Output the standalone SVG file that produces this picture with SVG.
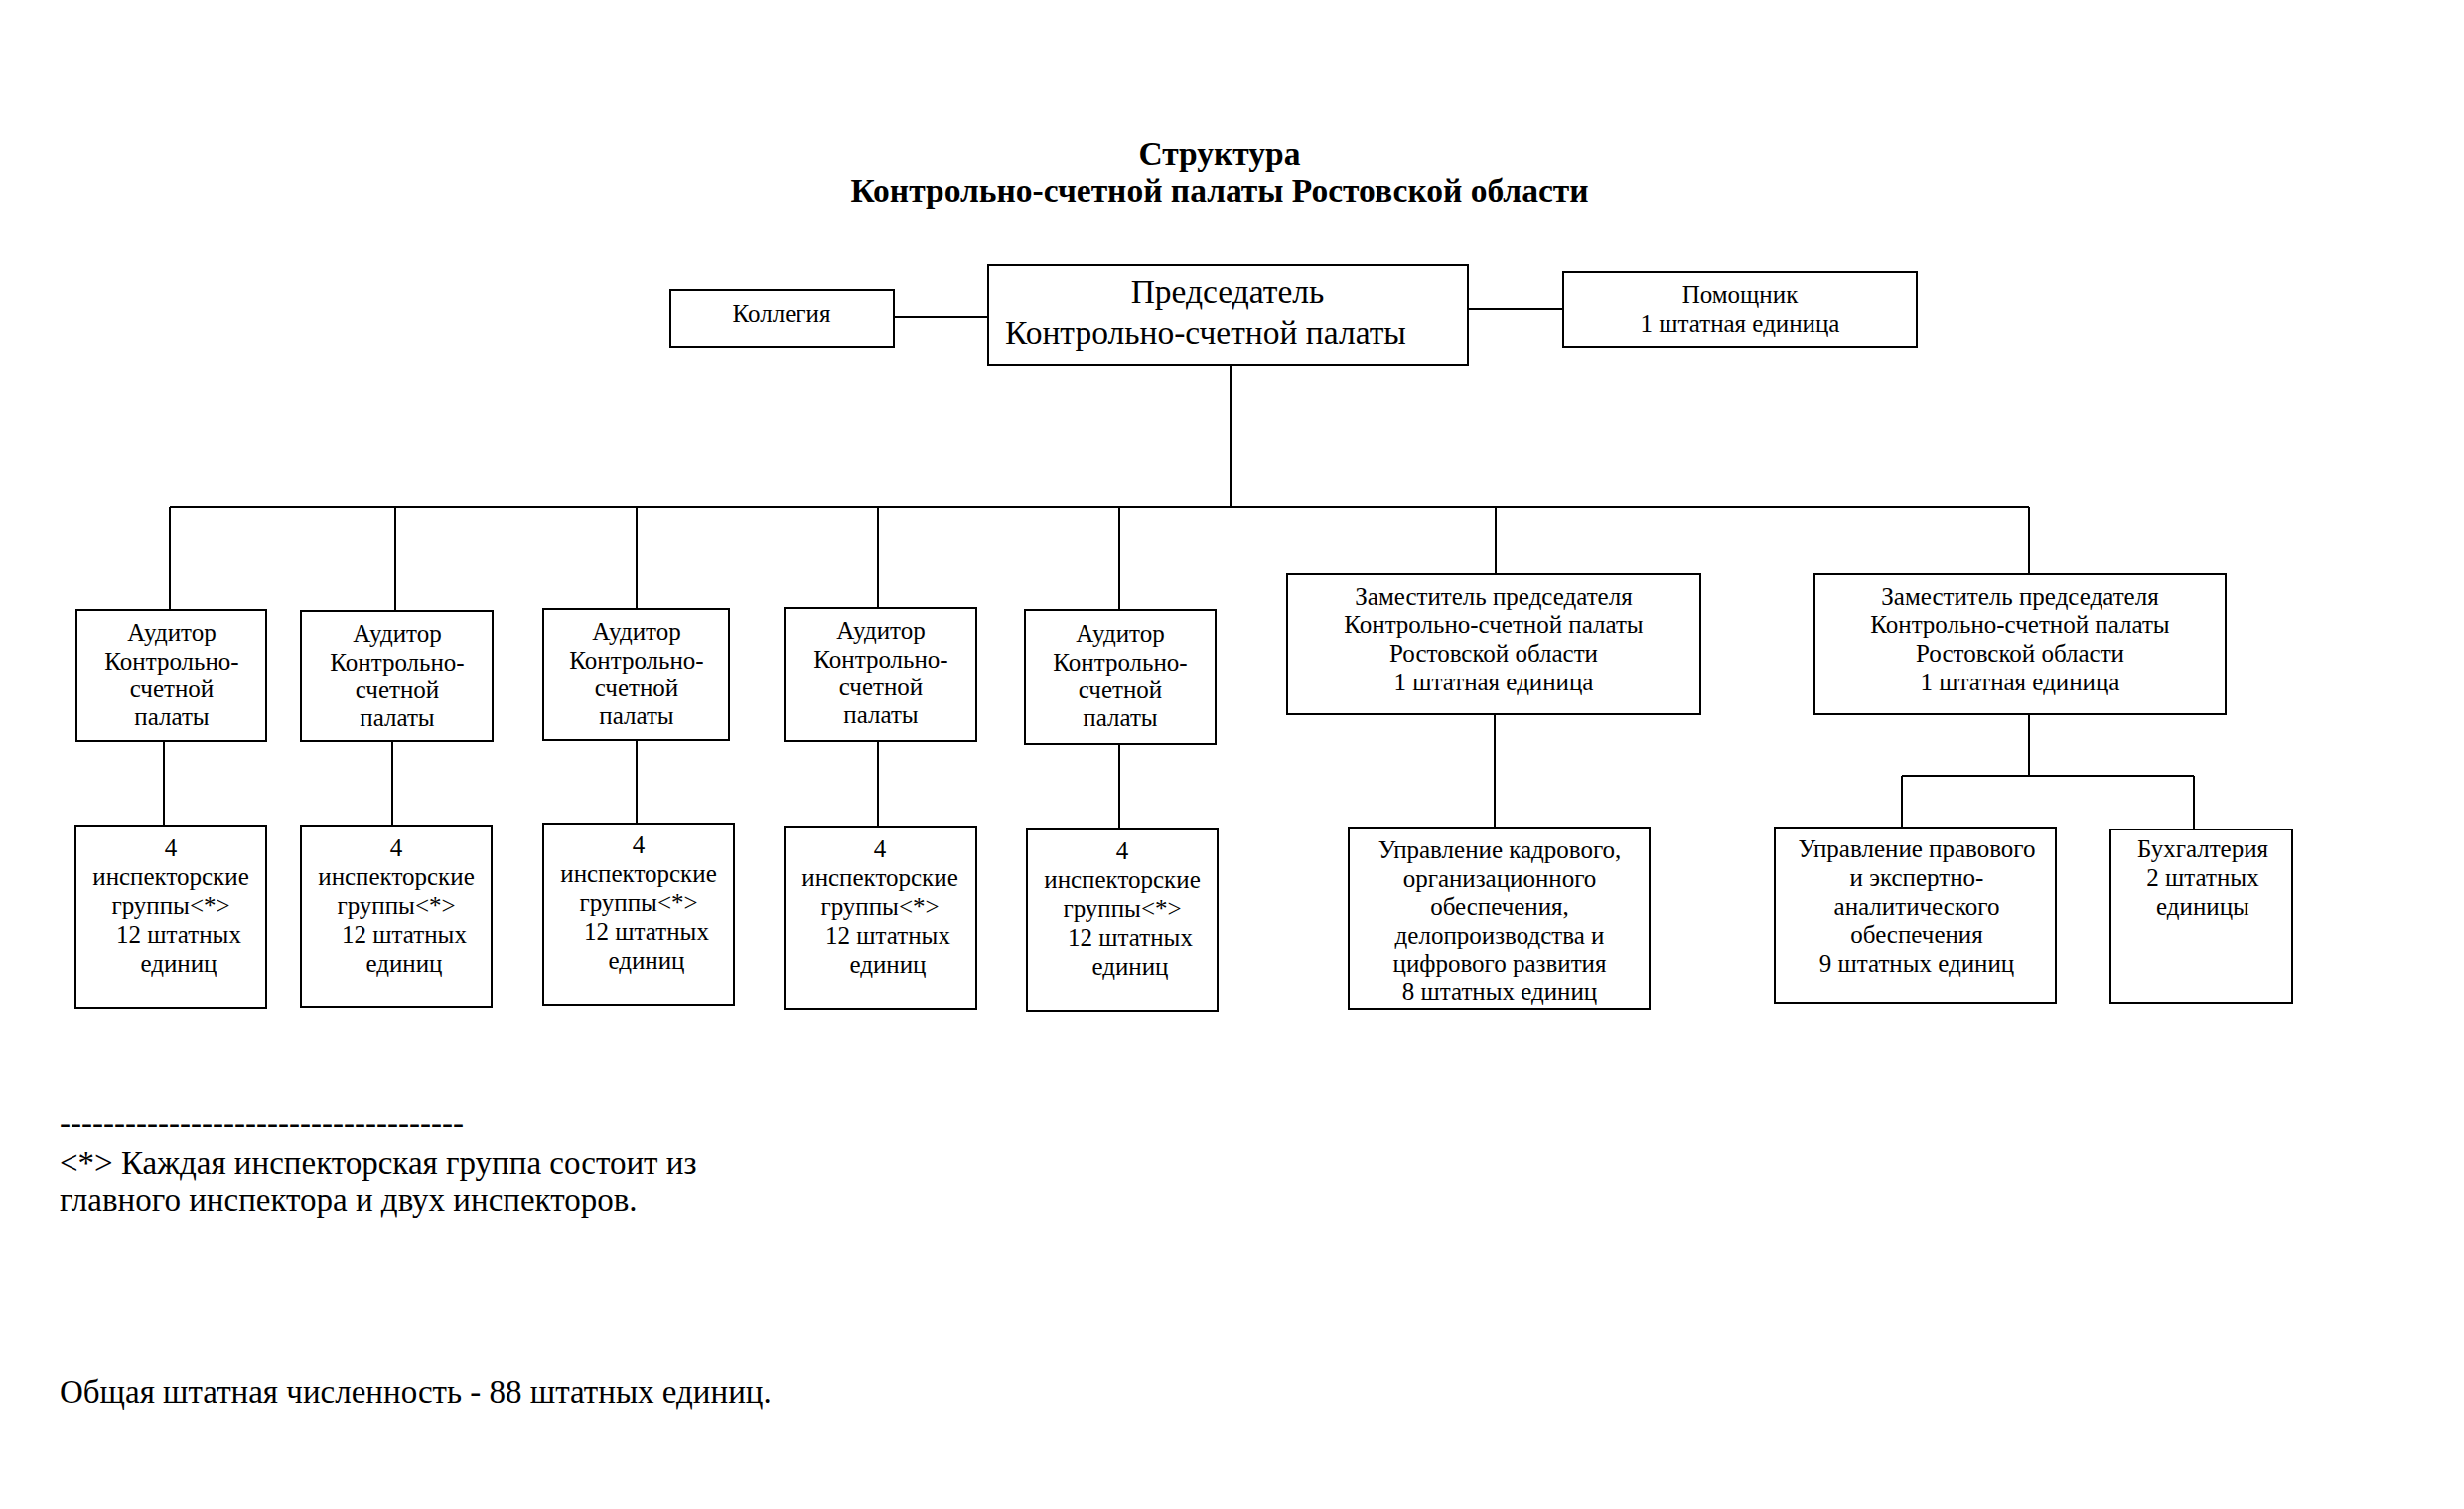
<svg xmlns="http://www.w3.org/2000/svg" width="2481" height="1519" viewBox="0 0 2481 1519">
<style>
text{font-family:"Liberation Serif","Times New Roman",serif;fill:#000}
.t{font-size:33.5px;font-weight:bold;text-anchor:middle}
.s{font-size:25px;text-anchor:middle}
.b{font-size:33.5px}
.f{font-size:33px}
rect{fill:#fff;stroke:#000;stroke-width:2}
#connectors line{stroke:#000;stroke-width:2}
</style>
<rect x="0" y="0" width="2481" height="1519" style="stroke:none"/>
<g id="title">
<text class="t" x="1228" y="166">Структура</text>
<text class="t" x="1228" y="203">Контрольно-счетной палаты Ростовской области</text>
</g>
<g id="connectors">
<line x1="900" y1="319" x2="995" y2="319"/>
<line x1="1478" y1="311" x2="1574" y2="311"/>
<line x1="1239" y1="367" x2="1239" y2="510"/>
<line x1="171" y1="510" x2="2043" y2="510"/>
<line x1="171" y1="510" x2="171" y2="614"/>
<line x1="398" y1="510" x2="398" y2="615"/>
<line x1="641" y1="510" x2="641" y2="613"/>
<line x1="884" y1="510" x2="884" y2="612"/>
<line x1="1127" y1="510" x2="1127" y2="614"/>
<line x1="1506" y1="510" x2="1506" y2="578"/>
<line x1="2043" y1="510" x2="2043" y2="578"/>
<line x1="165" y1="746" x2="165" y2="831"/>
<line x1="395" y1="746" x2="395" y2="831"/>
<line x1="641" y1="745" x2="641" y2="829"/>
<line x1="884" y1="746" x2="884" y2="832"/>
<line x1="1127" y1="749" x2="1127" y2="834"/>
<line x1="1505" y1="719" x2="1505" y2="833"/>
<line x1="2043" y1="719" x2="2043" y2="781"/>
<line x1="1915" y1="781" x2="2209" y2="781"/>
<line x1="1915" y1="781" x2="1915" y2="833"/>
<line x1="2209" y1="781" x2="2209" y2="835"/>
</g>
<g id="kollegiya">
<rect x="675" y="292" width="225" height="57"/>
<text class="s" x="787" y="324">Коллегия</text>
</g>
<g id="chairman">
<rect x="995" y="267" width="483" height="100"/>
<text class="b" x="1236" y="305" text-anchor="middle">Председатель</text>
<text class="b" x="1012" y="346">Контрольно-счетной палаты</text>
</g>
<g id="assistant">
<rect x="1574" y="274" width="356" height="75"/>
<text class="s" x="1752" y="305">Помощник</text>
<text class="s" x="1752" y="334">1 штатная единица</text>
</g>
<g id="auditor1">
<rect x="77" y="614" width="191" height="132"/>
<text class="s" x="173" y="645">Аудитор</text>
<text class="s" x="173" y="674">Контрольно-</text>
<text class="s" x="173" y="702">счетной</text>
<text class="s" x="173" y="730">палаты</text>
</g>
<g id="auditor2">
<rect x="303" y="615" width="193" height="131"/>
<text class="s" x="400" y="646">Аудитор</text>
<text class="s" x="400" y="675">Контрольно-</text>
<text class="s" x="400" y="703">счетной</text>
<text class="s" x="400" y="731">палаты</text>
</g>
<g id="auditor3">
<rect x="547" y="613" width="187" height="132"/>
<text class="s" x="641" y="644">Аудитор</text>
<text class="s" x="641" y="673">Контрольно-</text>
<text class="s" x="641" y="701">счетной</text>
<text class="s" x="641" y="729">палаты</text>
</g>
<g id="auditor4">
<rect x="790" y="612" width="193" height="134"/>
<text class="s" x="887" y="643">Аудитор</text>
<text class="s" x="887" y="672">Контрольно-</text>
<text class="s" x="887" y="700">счетной</text>
<text class="s" x="887" y="728">палаты</text>
</g>
<g id="auditor5">
<rect x="1032" y="614" width="192" height="135"/>
<text class="s" x="1128" y="646">Аудитор</text>
<text class="s" x="1128" y="675">Контрольно-</text>
<text class="s" x="1128" y="703">счетной</text>
<text class="s" x="1128" y="731">палаты</text>
</g>
<g id="groups1">
<rect x="76" y="831" width="192" height="184"/>
<text class="s" x="172" y="862">4</text>
<text class="s" x="172" y="891">инспекторские</text>
<text class="s" x="172" y="920">группы&lt;*&gt;</text>
<text class="s" x="180" y="949">12 штатных</text>
<text class="s" x="180" y="978">единиц</text>
</g>
<g id="groups2">
<rect x="303" y="831" width="192" height="183"/>
<text class="s" x="399" y="862">4</text>
<text class="s" x="399" y="891">инспекторские</text>
<text class="s" x="399" y="920">группы&lt;*&gt;</text>
<text class="s" x="407" y="949">12 штатных</text>
<text class="s" x="407" y="978">единиц</text>
</g>
<g id="groups3">
<rect x="547" y="829" width="192" height="183"/>
<text class="s" x="643" y="859">4</text>
<text class="s" x="643" y="888">инспекторские</text>
<text class="s" x="643" y="917">группы&lt;*&gt;</text>
<text class="s" x="651" y="946">12 штатных</text>
<text class="s" x="651" y="975">единиц</text>
</g>
<g id="groups4">
<rect x="790" y="832" width="193" height="184"/>
<text class="s" x="886" y="863">4</text>
<text class="s" x="886" y="892">инспекторские</text>
<text class="s" x="886" y="921">группы&lt;*&gt;</text>
<text class="s" x="894" y="950">12 штатных</text>
<text class="s" x="894" y="979">единиц</text>
</g>
<g id="groups5">
<rect x="1034" y="834" width="192" height="184"/>
<text class="s" x="1130" y="865">4</text>
<text class="s" x="1130" y="894">инспекторские</text>
<text class="s" x="1130" y="923">группы&lt;*&gt;</text>
<text class="s" x="1138" y="952">12 штатных</text>
<text class="s" x="1138" y="981">единиц</text>
</g>
<g id="deputy1">
<rect x="1296" y="578" width="416" height="141"/>
<text class="s" x="1504" y="609">Заместитель председателя</text>
<text class="s" x="1504" y="637">Контрольно-счетной палаты</text>
<text class="s" x="1504" y="666">Ростовской области</text>
<text class="s" x="1504" y="695">1 штатная единица</text>
</g>
<g id="deputy2">
<rect x="1827" y="578" width="414" height="141"/>
<text class="s" x="2034" y="609">Заместитель председателя</text>
<text class="s" x="2034" y="637">Контрольно-счетной палаты</text>
<text class="s" x="2034" y="666">Ростовской области</text>
<text class="s" x="2034" y="695">1 штатная единица</text>
</g>
<g id="hr-dept">
<rect x="1358" y="833" width="303" height="183"/>
<text class="s" x="1510" y="864">Управление кадрового,</text>
<text class="s" x="1510" y="893">организационного</text>
<text class="s" x="1510" y="921">обеспечения,</text>
<text class="s" x="1510" y="950">делопроизводства и</text>
<text class="s" x="1510" y="978">цифрового развития</text>
<text class="s" x="1510" y="1007">8 штатных единиц</text>
</g>
<g id="legal-dept">
<rect x="1787" y="833" width="283" height="177"/>
<text class="s" x="1930" y="863">Управление правового</text>
<text class="s" x="1930" y="892">и экспертно-</text>
<text class="s" x="1930" y="921">аналитического</text>
<text class="s" x="1930" y="949">обеспечения</text>
<text class="s" x="1930" y="978">9 штатных единиц</text>
</g>
<g id="accounting">
<rect x="2125" y="835" width="183" height="175"/>
<text class="s" x="2218" y="863">Бухгалтерия</text>
<text class="s" x="2218" y="892">2 штатных</text>
<text class="s" x="2218" y="921">единицы</text>
</g>
<g id="footnote">
<text class="f" x="60" y="1141" textLength="407" lengthAdjust="spacing">-------------------------------------</text>
<text class="f" x="60" y="1182">&lt;*&gt; Каждая инспекторская группа состоит из</text>
<text class="f" x="60" y="1219">главного инспектора и двух инспекторов.</text>
<text class="f" x="60" y="1412">Общая штатная численность - 88 штатных единиц.</text>
</g>
</svg>
